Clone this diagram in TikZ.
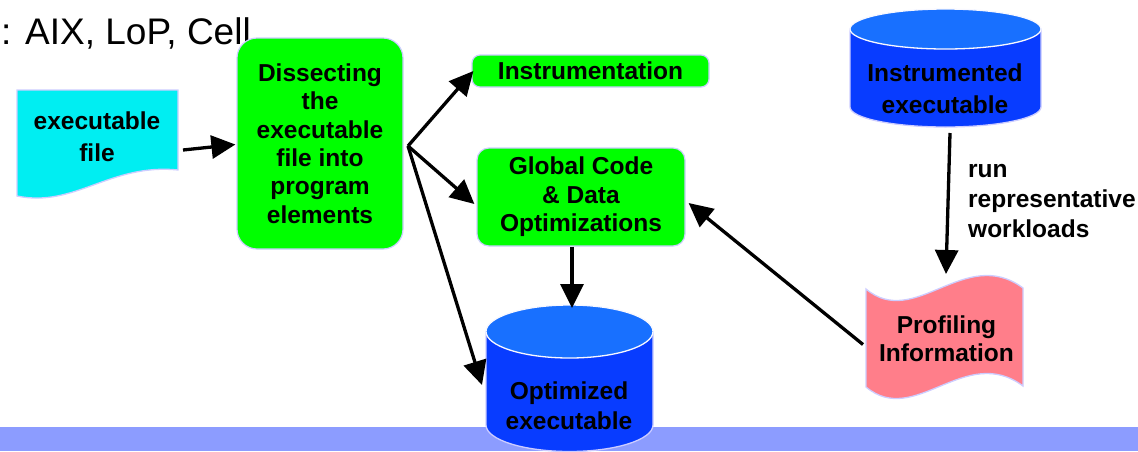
\documentclass[tikz,border=0pt]{standalone}
\usepackage{fontspec}
\setmainfont{Liberation Sans}
\usetikzlibrary{arrows.meta}

\definecolor{boxgreen}{RGB}{0,255,0}
\definecolor{filecyan}{RGB}{0,238,242}
\definecolor{profpink}{RGB}{255,126,138}
\definecolor{drumbody}{RGB}{8,60,255}
\definecolor{drumtop}{RGB}{24,112,255}
\definecolor{edgelav}{RGB}{205,205,255}
\definecolor{bandblue}{RGB}{140,156,255}

\tikzset{
  lbl/.style={font=\bfseries\fontsize{24.5}{#1}\selectfont, align=center, inner sep=0pt},
  lbl/.default=28.4,
  greenbox/.style={fill=boxgreen, draw=edgelav, line width=1.2pt, inner sep=0pt},
  hitbox/.style={draw=none, inner sep=0pt, outer sep=0pt},
  rim/.style={draw=edgelav, line width=1.3pt},
  flowarrow/.style={line width=3.3pt, -{Triangle[length=24pt,width=23pt]}},
}

\begin{document}
\begin{tikzpicture}[x=1pt, y=-1pt]
\useasboundingbox (0,0) rectangle (1138,451);

% footer band
\fill[bandblue] (0,427) rectangle (1138,451);

% heading fragment, partly covered by the first box
\node[anchor=base west, inner sep=0pt, font=\fontsize{37}{41}\selectfont] (title) at (1,44) {: AIX, LoP, Cell};

% executable file (document shape)
\filldraw[fill=filecyan, rim] (17,90) -- (178,90) -- (178,170)
  .. controls (110,163) and (75,208) .. (17,196) -- cycle;
\node[hitbox, minimum width=161pt, minimum height=106pt] (file) at (97.5,143) {};
\node[lbl=32.4] (fileT) at (97,136.6) {executable\\file};

% processing boxes
\node[greenbox, rounded corners=20pt, minimum width=166pt, minimum height=211pt, lbl] (dissect) at (320,143.5)
  {Dissecting\\the\\executable\\file into\\program\\elements};
\node[greenbox, rounded corners=8pt, minimum width=237pt, minimum height=32pt, lbl] (instr) at (590.5,71)
  {Instrumentation};
\node[greenbox, rounded corners=12pt, minimum width=208pt, minimum height=98pt, lbl] (glob) at (581,197)
  {Global Code\\\& Data\\Optimizations};

% instrumented executable (cylinder)
\filldraw[fill=drumbody, rim] (850,29) -- (850,107)
  arc[start angle=180, end angle=360, x radius=95.5pt, y radius=20pt] -- (1041,29) -- cycle;
\filldraw[fill=drumtop, draw=white!85!edgelav, line width=1.3pt] (945.5,29) ellipse[x radius=95.5pt, y radius=20pt];
\node[hitbox, minimum width=191pt, minimum height=118pt] (inst) at (945.5,68) {};
\node[lbl=31.6] (instT) at (945,88.5) {Instrumented\\executable};

% optimized executable (cylinder)
\filldraw[fill=drumbody, rim] (486,331.5) -- (486,425)
  arc[start angle=180, end angle=360, x radius=83.5pt, y radius=26.5pt] -- (653,331.5) -- cycle;
\filldraw[fill=drumtop, draw=white!85!edgelav, line width=1.3pt] (569.5,331.5) ellipse[x radius=83.5pt, y radius=26.5pt];
\node[hitbox, minimum width=167pt, minimum height=146pt] (opt) at (569.5,378) {};
\node[lbl=30] (optT) at (569,406) {Optimized\\executable};

% profiling information (tape shape)
\filldraw[fill=profpink, rim] (866,289) .. controls (915,330) and (965,245) .. (1023,288)
  -- (1023,386) .. controls (965,343) and (915,428) .. (866,387) -- cycle;
\node[hitbox, minimum width=157pt, minimum height=121pt] (prof) at (944.5,337.5) {};
\node[lbl] (profT) at (946.5,338.5) {Profiling\\Information};

% connectors
\coordinate (fork) at (408,146);
\draw[flowarrow] ([xshift=5pt,yshift=-7pt]file.east) -- ([xshift=-1pt,yshift=-1pt]dissect.west);
\draw[flowarrow] (fork) -- ([xshift=2pt]instr.west);
\draw[flowarrow] (fork) -- ([xshift=-2pt,yshift=-7pt]glob.west);
\draw[flowarrow] (fork) -- ([xshift=-4pt,yshift=-7pt]opt.west);
\draw[flowarrow] ([xshift=-9pt]glob.south) -- ([xshift=2.5pt,yshift=-3pt]opt.north);
\draw[flowarrow] ([xshift=4.5pt,yshift=-6pt]inst.south) -- ([xshift=1.5pt,yshift=3pt]prof.north);
\draw[flowarrow] ([xshift=-3pt,yshift=-7pt]prof.west) -- ([xshift=3pt,yshift=-6pt]glob.east);

\node[lbl=30, align=left, anchor=west] (wl) at (968,201) {run\\representative\\workloads};
\end{tikzpicture}
\end{document}
